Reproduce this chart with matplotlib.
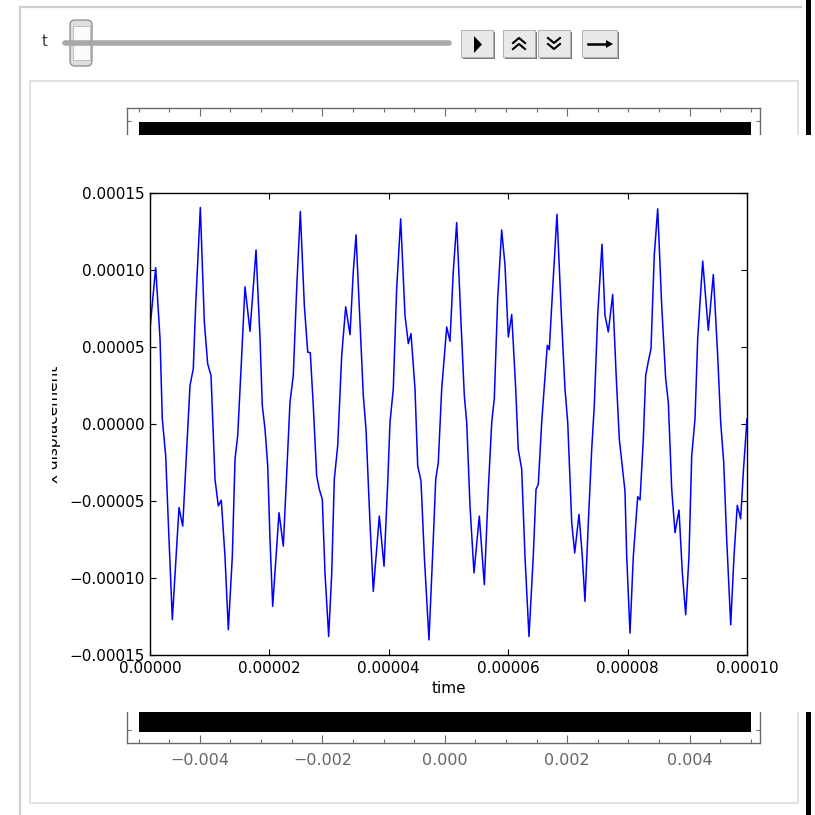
import numpy as np
import matplotlib
matplotlib.use("Agg")
import matplotlib.pyplot as plt
from matplotlib.patches import Rectangle, FancyBboxPatch, Polygon
from matplotlib.ticker import FuncFormatter

W = H = 815

# displacement trace: time in microseconds, displacement in units of 1e-5
time_us = [0.00, 0.95, 1.68, 2.06, 2.63, 3.07, 3.74, 4.86, 5.48, 6.15, 6.70, 7.25, 7.65, 8.43,
           9.10, 9.66, 10.22, 10.89, 11.44, 11.94, 12.56, 13.12, 13.79, 14.24, 14.69, 15.36,
           15.91, 16.75, 17.76, 18.43, 18.81, 19.26, 19.72, 20.10, 20.55, 21.61, 22.33, 22.90,
           23.45, 24.00, 24.57, 25.18, 25.85, 26.42, 26.85, 27.35, 27.92, 28.36, 28.86, 29.31,
           29.93, 30.44, 30.87, 31.44, 32.11, 32.78, 33.50, 34.05, 34.51, 35.18, 35.73, 36.18,
           36.85, 37.40, 38.41, 39.20, 39.82, 40.20, 40.75, 41.32, 41.99, 42.71, 43.27, 43.72,
           44.39, 44.84, 45.39, 45.95, 46.73, 47.45, 47.86, 48.29, 48.86, 49.70, 50.25, 50.80,
           51.37, 52.09, 52.65, 53.05, 53.60, 54.27, 55.16, 56.00, 56.67, 57.24, 57.67, 58.24,
           58.91, 59.46, 60.02, 60.59, 61.26, 61.68, 62.26, 62.81, 63.48, 64.20, 64.66, 65.04,
           65.61, 66.55, 66.88, 67.45, 68.17, 68.96, 69.51, 69.97, 70.64, 71.14, 71.86, 72.41,
           72.86, 73.42, 73.99, 74.42, 74.99, 75.71, 76.21, 76.77, 77.50, 78.06, 78.61, 79.11,
           79.56, 79.85, 80.40, 80.96, 81.69, 82.08, 82.63, 83.03, 83.47, 83.92, 84.47, 85.04,
           85.71, 86.38, 86.82, 87.39, 87.94, 88.61, 89.17, 89.73, 90.28, 90.74, 91.29, 91.74,
           92.58, 93.52, 94.36, 95.09, 95.59, 96.10, 96.60, 97.27, 97.82, 98.37, 98.94, 99.38,
           100.0]
x_disp = [6.19, 10.15, 5.54, 0.33, -2.07, -6.41, -12.71, -5.43, -6.63, -1.63, 2.50, 3.59, 7.71, 14.06,
          6.63, 3.91, 3.15, -3.59, -5.32, -4.95, -8.59, -13.36, -8.59, -2.28, -0.76, 4.45,
          8.91, 6.02, 11.30, 5.54, 1.19, -0.30, -2.72, -7.50, -11.84, -5.76, -7.93, -3.15,
          1.41, 3.15, 8.80, 13.80, 7.71, 4.67, 4.63, 1.19, -3.37, -4.24, -4.89, -9.67,
          -13.80, -9.67, -3.59, -1.41, 4.45, 7.61, 5.80, 9.89, 12.28, 6.63, 1.84, -0.33,
          -6.41, -10.87, -5.98, -9.24, -3.80, 0.11, 2.28, 8.80, 13.32, 7.06, 5.22, 5.87,
          2.28, -2.72, -3.69, -8.59, -14.02, -7.50, -3.59, -2.50, 2.28, 6.30, 5.37, 9.89,
          13.08, 6.63, 1.84, 0.11, -5.32, -9.67, -5.98, -10.43, -4.24, 0.11, 1.63, 8.15,
          12.60, 10.32, 5.65, 7.11, 2.28, -1.63, -2.93, -8.59, -13.80, -8.59, -4.24, -3.91,
          0.11, 5.11, 4.82, 8.80, 13.62, 6.63, 2.28, 0.11, -6.41, -8.37, -5.87, -8.59,
          -11.52, -6.41, -1.63, 1.19, 7.06, 11.67, 7.06, 5.98, 8.41, 3.37, -0.98, -2.72,
          -4.35, -8.59, -13.58, -8.59, -4.72, -4.93, -0.98, 3.15, 4.06, 4.89, 10.97, 13.97,
          7.71, 2.93, 1.41, -4.24, -7.06, -5.59, -9.67, -12.39, -8.59, -2.07, 0.33, 5.54,
          10.58, 6.08, 9.71, 4.45, 0.11, -2.50, -7.50, -13.04, -8.59, -5.28, -6.15, -3.15,
          0.33]

time_ticks = [0, 2e-5, 4e-5, 6e-5, 8e-5, 1e-4]
disp_ticks = [-1.5e-4, -1e-4, -5e-5, 0, 5e-5, 1e-4, 1.5e-4]

# background density strip (x range of the wave snapshot)
strip_x = [-0.005, 0.005]
strip_ticks = [-0.004, -0.002, 0.0, 0.002, 0.004]
strip_labels = ["\u22120.004", "\u22120.002", "0.000", "0.002", "0.004"]


def px_rect(x0, y0, x1, y1):
    return [x0 / W, 1 - y1 / H, (x1 - x0) / W, (y1 - y0) / H]


fig = plt.figure(figsize=(W / 100, H / 100), dpi=100)

# --- widget frame, slider and buttons (pixel coordinates) ---
bg = fig.add_axes([0, 0, 1, 1], zorder=0)
bg.set_xlim(0, W)
bg.set_ylim(H, 0)
bg.axis("off")

bg.plot([20, 20, 801], [H, 7, 7], color="#cfcfcf", lw=1.6, solid_joinstyle="miter")
bg.add_patch(Rectangle((30, 81), 768, 722, facecolor="white", edgecolor="#dcdcdc", lw=1.2))
bg.add_patch(Rectangle((806, 0), 5, H, facecolor="black", edgecolor="none"))

bg.text(44, 41, "t", fontsize=10.5, color="#333344", ha="center", va="center")
bg.plot([65, 449], [43, 43], color="#a9a9a9", lw=4, solid_capstyle="round")
bg.add_patch(FancyBboxPatch((70, 20), 22, 46, boxstyle="round,pad=0,rounding_size=5",
                            facecolor="#dedede", edgecolor="#8a8a8a", lw=0.9))
bg.add_patch(Rectangle((72.5, 26), 17, 34, facecolor="#fbfbfb", edgecolor="#b8b8b8", lw=0.6))

buttons = [(461, 493), (503, 535), (538, 570), (582, 617)]
for bx0, bx1 in buttons:
    bg.add_patch(Rectangle((bx0 + 1.5, 31.5), bx1 - bx0, 27, facecolor="#7a7a7a", edgecolor="none"))
    bg.add_patch(Rectangle((bx0, 30), bx1 - bx0, 27, facecolor="#e9e9e9", edgecolor="#b0b0b0", lw=0.7))

bg.add_patch(Polygon([(474, 36), (474, 53), (482, 44.5)], closed=True, facecolor="black"))
for cy in (40, 46):
    bg.plot([513, 519, 525], [cy + 3, cy - 2, cy + 3], color="black", lw=1.5)
    bg.plot([548, 554, 560], [cy - 2, cy + 3, cy - 2], color="black", lw=1.5)
bg.plot([588, 608], [44, 44], color="black", lw=1.8)
bg.add_patch(Polygon([(606, 40), (613, 44), (606, 48)], closed=True, facecolor="black"))

# --- background snapshot plot ---
back = fig.add_axes(px_rect(127, 108, 760, 743), zorder=1)
back.set_xlim(-0.00519, 0.00515)
back.set_ylim(0, 1)
back.fill_between(strip_x, 0.017, 0.978, color="black", lw=0)
back.set_xticks(strip_ticks)
back.set_xticklabels(strip_labels)
back.set_xticks(np.arange(-0.005, 0.0051, 0.0005), minor=True)
back.set_yticks([0.02, 0.98])
back.set_yticklabels([])
for s in back.spines.values():
    s.set_color("#6a6a6a")
    s.set_linewidth(1.0)
back.tick_params(which="both", direction="in", top=True, right=True, color="#6a6a6a",
                 labelcolor="#666666", labelsize=11.5, width=0.8)
back.tick_params(which="major", axis="x", length=6, pad=7)
back.tick_params(which="minor", length=3)
back.tick_params(which="major", axis="y", length=3)

# --- white plot image laid over the snapshot ---
cover = fig.add_axes(px_rect(52, 135, 815, 712), zorder=2)
cover.set_facecolor("white")
cover.set_xticks([])
cover.set_yticks([])
for s in cover.spines.values():
    s.set_visible(False)

# --- displacement vs time ---
ax = fig.add_axes(px_rect(150, 193, 747, 655), zorder=3)
ax.plot(np.array(time_us) * 1e-6, np.array(x_disp) * 1e-5, color="blue", lw=1.1,
        solid_joinstyle="round")
ax.set_xlim(0, 1e-4)
ax.set_ylim(-1.5e-4, 1.5e-4)
ax.set_xticks(time_ticks)
ax.set_yticks(disp_ticks)
fmt = FuncFormatter(lambda v, p: ("%.5f" % (0.0 if abs(v) < 1e-12 else v)).replace("-", "\u2212"))
ax.xaxis.set_major_formatter(fmt)
ax.yaxis.set_major_formatter(fmt)
ax.tick_params(direction="in", top=True, right=True, length=4, width=0.8, labelsize=11, pad=4)
for s in ax.spines.values():
    s.set_linewidth(1.0)
ax.set_xlabel("time", fontsize=11, labelpad=4)
ax.set_ylabel("x displacement", fontsize=11)
ax.yaxis.set_label_coords(-0.149, 0.5)
ax.yaxis.label.set_clip_box(cover.bbox)
ax.yaxis.label.set_clip_on(True)

fig.savefig("out.png", dpi=100)
